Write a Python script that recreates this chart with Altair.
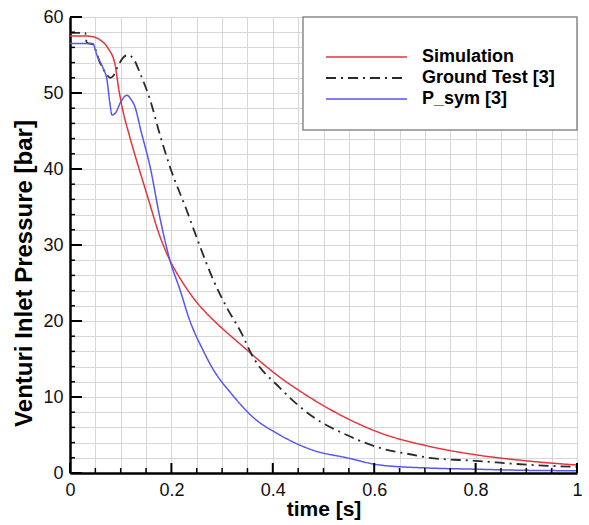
import altair as alt
import pandas as pd

# ---------------- data ----------------
sim_t = [0.0, 0.03, 0.045, 0.059, 0.075, 0.089, 0.095, 0.102, 0.118, 0.135, 0.152, 0.177,
         0.197, 0.22, 0.252, 0.28, 0.309, 0.335, 0.359, 0.414, 0.46, 0.512, 0.611, 0.709, 0.8, 0.9, 1.0]
sim_p = [57.5, 57.5, 57.4, 57.0, 55.9, 53.7, 51.0, 48.4, 44.2, 40.3, 36.6, 31.2,
         28.0, 25.3, 22.3, 20.3, 18.5, 17.0, 15.6, 12.6, 10.5, 8.4, 5.3, 3.5, 2.4, 1.6, 1.05]

gt_t = [0.0, 0.03, 0.033, 0.045, 0.059, 0.073, 0.079, 0.086, 0.093, 0.104, 0.114, 0.124,
        0.14, 0.158, 0.177, 0.197, 0.23, 0.252, 0.282, 0.309, 0.339, 0.359, 0.414, 0.479,
        0.546, 0.611, 0.676, 0.709, 0.8, 0.9, 1.0]
gt_p = [57.9, 57.9, 56.6, 56.4, 54.0, 52.4, 52.0, 52.3, 53.3, 54.6, 55.0, 54.6,
        52.3, 49.1, 44.6, 40.3, 34.6, 30.6, 25.5, 21.8, 18.3, 15.5, 11.2, 7.4,
        5.0, 3.3, 2.4, 2.0, 1.6, 1.1, 0.8]

ps_t = [0.0, 0.045, 0.053, 0.065, 0.073, 0.078, 0.083, 0.09, 0.1, 0.112, 0.12, 0.128,
        0.14, 0.158, 0.177, 0.197, 0.217, 0.236, 0.262, 0.28, 0.32, 0.36, 0.414, 0.479,
        0.546, 0.611, 0.709, 0.8, 0.9, 1.0]
ps_p = [56.5, 56.5, 55.0, 53.3, 51.7, 49.0, 47.1, 47.4, 48.8, 49.7, 49.2, 48.2,
        45.0, 40.3, 33.7, 28.0, 24.1, 20.1, 16.2, 13.9, 10.3, 7.4, 5.0, 3.0,
        2.0, 1.05, 0.65, 0.5, 0.35, 0.3]

series_names = ["Simulation", "Ground Test [3]", "P_sym [3]"]
series_t = [sim_t, gt_t, ps_t]
series_p = [sim_p, gt_p, ps_p]
series_colors = ["#e2363c", "#2a2a2a", "#5757ee"]
series_dash = [[1, 0], [10, 5, 2, 5], [1, 0]]
series_width = [1.5, 1.8, 1.5]

x_minor = [round(i * 0.05, 2) for i in range(21)]
y_minor = list(range(0, 61, 2))

W, H = 507, 456
FONT = "Liberation Sans"

xscale = alt.Scale(domain=[0, 1], nice=False, zero=False)
yscale = alt.Scale(domain=[0, 60], nice=False, zero=False)

x_axis = alt.Axis(
    values=x_minor, grid=True, gridColor="#d6d6d6", gridWidth=1,
    ticks=False, tickSize=0, domainColor="black", domainWidth=2.5,
    labelExpr="round(datum.value*100) % 20 == 0 ? format(datum.value, '~g') : ''",
    labelFont=FONT, labelFontSize=18, labelColor="#111111", labelPadding=8,
    labelFlush=False, labelOverlap=False,
    title="time [s]", titleFont=FONT, titleFontSize=21, titleFontWeight="bold",
    titleColor="black", titleX=W / 2, titleY=42, titleBaseline="alphabetic",
    titleAlign="center",
)
y_axis = alt.Axis(
    values=y_minor, grid=True, gridColor="#d6d6d6", gridWidth=1,
    ticks=False, tickSize=0, domainColor="black", domainWidth=2.5,
    labelExpr="datum.value % 10 == 0 ? datum.label : ''",
    labelFont=FONT, labelFontSize=18, labelColor="#111111", labelPadding=7,
    labelFlush=False, labelOverlap=False,
    title="Venturi Inlet Pressure [bar]", titleFont=FONT, titleFontSize=24,
    titleFontWeight="bold", titleColor="black", titleX=-46, titleY=256,
    titleAngle=270, titleAlign="center", titleBaseline="middle",
)

layers = []
for i, name in enumerate(series_names):
    df = pd.DataFrame({"t": series_t[i], "p": series_p[i], "o": range(len(series_t[i]))})
    layers.append(
        alt.Chart(df).mark_line(
            color=series_colors[i], strokeDash=series_dash[i],
            strokeWidth=series_width[i], interpolate="monotone",
        ).encode(
            x=alt.X("t:Q", scale=xscale, axis=x_axis),
            y=alt.Y("p:Q", scale=yscale, axis=y_axis),
            order="o:Q",
        )
    )

# inward tick marks
xt = pd.DataFrame({"t": x_minor, "major": [round(v * 100) % 20 == 0 for v in x_minor]})
yt = pd.DataFrame({"p": y_minor, "major": [v % 10 == 0 for v in y_minor]})
for major, ln, sw in [(True, 10, 2), (False, 5, 1.5)]:
    layers.append(
        alt.Chart(xt[xt["major"] == major]).mark_rule(color="black", strokeWidth=sw).encode(
            x=alt.X("t:Q", scale=xscale, axis=x_axis),
            y=alt.value(H), y2=alt.value(H - ln),
        )
    )
for major, ln, sw in [(True, 12, 2), (False, 5, 1.5)]:
    layers.append(
        alt.Chart(yt[yt["major"] == major]).mark_rule(color="black", strokeWidth=sw).encode(
            y=alt.Y("p:Q", scale=yscale, axis=y_axis),
            x=alt.value(0), x2=alt.value(ln),
        )
    )

# legend box drawn by hand
legend_df = pd.DataFrame({"name": series_names})
box = alt.Chart(legend_df.head(1)).mark_rect(
    fill="white", stroke="#8a8a8a", strokeWidth=1.5
).encode(x=alt.value(233), x2=alt.value(W), y=alt.value(0), y2=alt.value(113))
layers.append(box)
for i, name in enumerate(series_names):
    row = legend_df.iloc[[i]]
    yy = 40 + 21 * i
    layers.append(
        alt.Chart(row).mark_rule(
            color=series_colors[i], strokeDash=series_dash[i], strokeWidth=series_width[i]
        ).encode(x=alt.value(256), x2=alt.value(337), y=alt.value(yy))
    )
    layers.append(
        alt.Chart(row).mark_text(
            align="left", baseline="middle", font=FONT, fontSize=18,
            fontWeight="bold", color="black",
        ).encode(x=alt.value(352), y=alt.value(yy), text="name:N")
    )

chart = alt.layer(*layers).properties(
    width=W, height=H,
    autosize=alt.AutoSizeParams(type="none"),
    padding={"left": 70, "top": 17, "right": 12, "bottom": 52},
).configure_view(stroke=None).configure(background="white")

chart.save("out.html", embed_options={"renderer": "svg", "actions": False})
